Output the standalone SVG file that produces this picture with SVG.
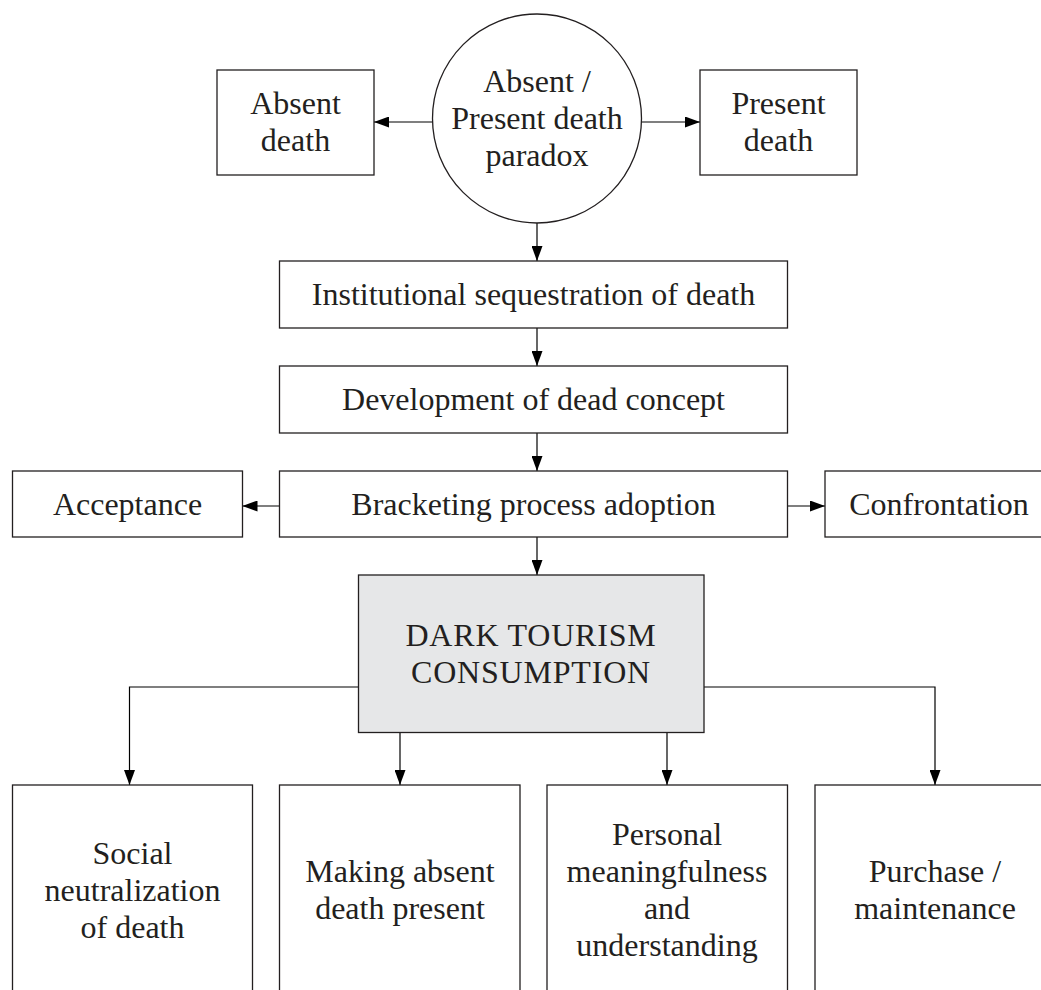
<svg xmlns="http://www.w3.org/2000/svg" width="1041" height="990" viewBox="0 0 1041 990">
<style>
.box{fill:#fff;stroke:#231f20;stroke-width:1.3}
.dark{fill:#e6e7e8;stroke:#231f20;stroke-width:1.3}
.t{font-family:"Liberation Serif","Times New Roman",serif;font-size:32px;fill:#231f20;text-anchor:middle}
.caps{letter-spacing:0.8px}
.ln{fill:none;stroke:#000;stroke-width:1.2}
</style>
<defs>
<marker id="ah" markerUnits="userSpaceOnUse" markerWidth="15" markerHeight="11" refX="15" refY="5.5" orient="auto">
<path d="M0,0 L15,5.5 L0,11 z" fill="#000"/>
</marker>
</defs>
<rect width="1041" height="990" fill="#fff"/>
<g id="connectors">
<line class="ln" x1="432.5" y1="122" x2="374" y2="122" marker-end="url(#ah)"/>
<line class="ln" x1="641.5" y1="122" x2="700" y2="122" marker-end="url(#ah)"/>
<line class="ln" x1="537" y1="223" x2="537" y2="261" marker-end="url(#ah)"/>
<line class="ln" x1="537" y1="328" x2="537" y2="366" marker-end="url(#ah)"/>
<line class="ln" x1="537" y1="433" x2="537" y2="471" marker-end="url(#ah)"/>
<line class="ln" x1="279.5" y1="506" x2="242.5" y2="506" marker-end="url(#ah)"/>
<line class="ln" x1="787.5" y1="506" x2="825" y2="506" marker-end="url(#ah)"/>
<line class="ln" x1="537" y1="537" x2="537" y2="575" marker-end="url(#ah)"/>
<polyline class="ln" points="358.5,687 129.5,687 129.5,785" marker-end="url(#ah)"/>
<polyline class="ln" points="704,687 935,687 935,785" marker-end="url(#ah)"/>
<line class="ln" x1="400" y1="732.5" x2="400" y2="785" marker-end="url(#ah)"/>
<line class="ln" x1="667" y1="732.5" x2="667" y2="785" marker-end="url(#ah)"/>
</g>
<g id="paradox">
<circle class="box" cx="537" cy="118.5" r="104.5"/>
<text class="t" x="537" y="92">Absent /</text>
<text class="t" x="537" y="129">Present death</text>
<text class="t" x="537" y="166">paradox</text>
</g>
<g id="absent-death">
<rect class="box" x="217" y="70" width="157" height="105"/>
<text class="t" x="295.5" y="114">Absent</text>
<text class="t" x="295.5" y="151">death</text>
</g>
<g id="present-death">
<rect class="box" x="700" y="70" width="157" height="105"/>
<text class="t" x="778.5" y="114">Present</text>
<text class="t" x="778.5" y="151">death</text>
</g>
<g id="institutional">
<rect class="box" x="279.5" y="261" width="508" height="67"/>
<text class="t" x="533.5" y="305">Institutional sequestration of death</text>
</g>
<g id="development">
<rect class="box" x="279.5" y="366" width="508" height="67"/>
<text class="t" x="533.5" y="410">Development of dead concept</text>
</g>
<g id="bracketing">
<rect class="box" x="279.5" y="471" width="508" height="66"/>
<text class="t" x="533.5" y="515">Bracketing process adoption</text>
</g>
<g id="acceptance">
<rect class="box" x="12.5" y="471" width="230" height="66"/>
<text class="t" x="127.5" y="515">Acceptance</text>
</g>
<g id="confrontation">
<rect class="box" x="825" y="471" width="230" height="66"/>
<text class="t" x="939" y="515">Confrontation</text>
</g>
<g id="dark-tourism">
<rect class="dark" x="358.5" y="575" width="345.5" height="157.5"/>
<text class="t caps" x="531" y="646">DARK TOURISM</text>
<text class="t caps" x="531" y="683">CONSUMPTION</text>
</g>
<g id="social">
<rect class="box" x="12.5" y="785" width="240" height="220"/>
<text class="t" x="132.5" y="863.5">Social</text>
<text class="t" x="132.5" y="900.5">neutralization</text>
<text class="t" x="132.5" y="937.5">of death</text>
</g>
<g id="making-present">
<rect class="box" x="279.5" y="785" width="240.5" height="220"/>
<text class="t" x="400" y="882">Making absent</text>
<text class="t" x="400" y="919">death present</text>
</g>
<g id="personal">
<rect class="box" x="547" y="785" width="240.5" height="220"/>
<text class="t" x="667" y="845">Personal</text>
<text class="t" x="667" y="882">meaningfulness</text>
<text class="t" x="667" y="919">and</text>
<text class="t" x="667" y="956">understanding</text>
</g>
<g id="purchase">
<rect class="box" x="815" y="785" width="240" height="220"/>
<text class="t" x="935" y="882">Purchase /</text>
<text class="t" x="935" y="919">maintenance</text>
</g>
</svg>
